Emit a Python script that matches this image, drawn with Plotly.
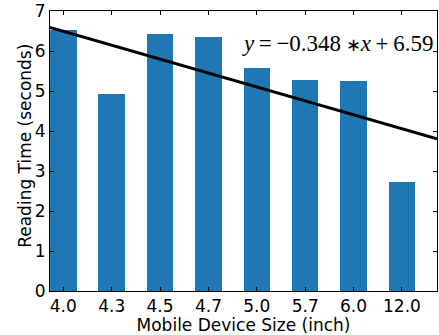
import numpy as np
import plotly.graph_objects as go

sizes = ["4.0", "4.3", "4.5", "4.7", "5.0", "5.7", "6.0", "12.0"]
reading_time = [6.52, 4.92, 6.42, 6.35, 5.57, 5.27, 5.25, 2.72]
slope = -0.348
intercept = 6.59

bar_width = 0.55
idx = np.arange(len(sizes))
centers = idx + bar_width / 2
line_x = np.array([0, len(sizes)])
line_y = slope * line_x + intercept

fig = go.Figure()
fig.add_trace(go.Bar(x=centers, y=reading_time, width=bar_width,
                     marker=dict(color="#1f77b4", line=dict(width=0)), showlegend=False))
fig.add_trace(go.Scatter(x=line_x, y=line_y, mode="lines",
                         line=dict(color="black", width=3), showlegend=False))

ts = "\u2009"
eq = (f"<i>y</i>{ts}={ts}−{abs(slope):.3f}{ts}<span style='font-size:18px'>∗</span>"
      f"<i>x</i>{ts}+{ts}{intercept:.2f}")
fig.add_annotation(x=7.95, y=6.2, xref="x", yref="y", xanchor="right", yanchor="middle",
                   text=eq, showarrow=False,
                   font=dict(family="Liberation Serif", size=23, color="black"))

fig.add_annotation(x=-0.065, y=0.518, xref="paper", yref="paper", xanchor="center",
                   yanchor="middle", textangle=-90, showarrow=False,
                   text="Reading Time (seconds)",
                   font=dict(family="DejaVu Sans", size=17, color="black"))

axis_common = dict(showline=True, linecolor="black", linewidth=1, mirror="allticks",
                   ticks="inside", ticklen=4, tickcolor="black", showgrid=False,
                   zeroline=False, automargin=False,
                   tickfont=dict(family="DejaVu Sans", size=17, color="black"))
fig.update_xaxes(range=[0, len(sizes)], tickvals=centers, ticktext=sizes,
                 title=dict(text="Mobile Device Size (inch)", standoff=2,
                            font=dict(family="DejaVu Sans", size=17, color="black")),
                 **axis_common)
fig.update_yaxes(range=[0, 7], dtick=1, **axis_common)
fig.update_layout(width=439, height=335, margin=dict(l=50, r=2, t=11, b=44),
                  plot_bgcolor="white", paper_bgcolor="white", bargap=0)
fig.write_html("out.html", config={"displayModeBar": False},
               post_script="document.body.style.margin='0';document.body.style.overflow='hidden';")
